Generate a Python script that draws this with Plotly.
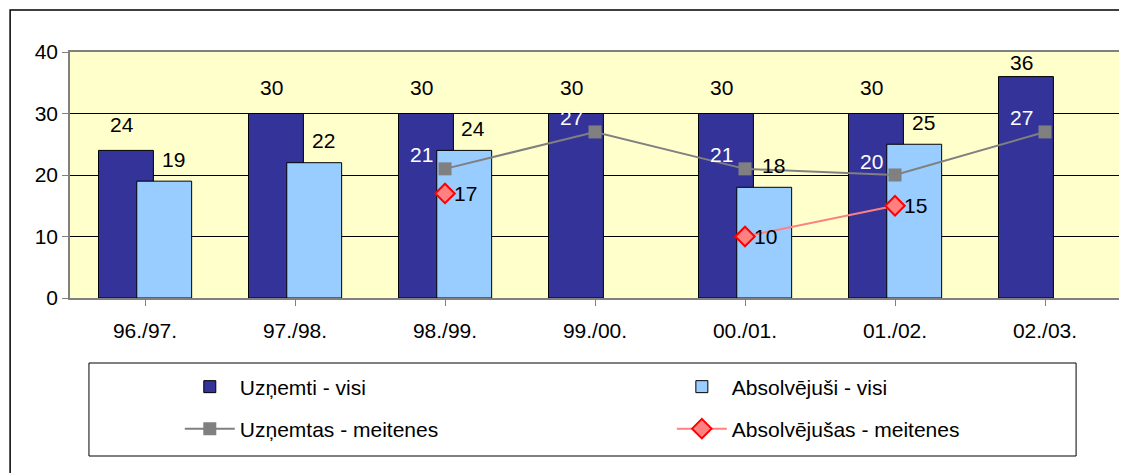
import plotly.graph_objects as go

categories = ["96./97.", "97./98.", "98./99.", "99./00.", "00./01.", "01./02.", "02./03."]
uznemti_visi = [24, 30, 30, 30, 30, 30, 36]
absolvejusi_visi = [19, 22, 24, None, 18, 25, None]
uznemtas_meitenes = [None, None, 21, 27, 21, 20, 27]
absolvejusas_meitenes = [None, None, 17, None, 10, 15, None]
y_ticks = [0, 10, 20, 30, 40]

FONT = "Liberation Sans, Arial, sans-serif"
FS = 21
DARK = "#333399"
LIGHT = "#99CCFF"
GRAY = "#808080"
RED_LINE = "#FF8080"
RED = "#FF0000"

x_idx = list(range(len(categories)))
BAR_W = 0.366
DARK_OFF = -0.31
LIGHT_OFF = -0.055

fig = go.Figure()
fig.add_trace(go.Bar(
    x=x_idx, y=uznemti_visi, name="Uzņemti - visi",
    width=BAR_W, offset=DARK_OFF,
    marker=dict(color=DARK, line=dict(color="#000000", width=1)),
    legend="legend",
))
fig.add_trace(go.Bar(
    x=x_idx, y=absolvejusi_visi, name="Absolvējuši - visi",
    width=BAR_W, offset=LIGHT_OFF,
    marker=dict(color=LIGHT, line=dict(color="#000000", width=1)),
    legend="legend2",
))
fig.add_trace(go.Scatter(
    x=x_idx, y=uznemtas_meitenes, name="Uzņemtas - meitenes",
    mode="lines+markers", connectgaps=False,
    line=dict(color=GRAY, width=2),
    marker=dict(symbol="square", size=13, color=GRAY),
    legend="legend3",
))
fig.add_trace(go.Scatter(
    x=x_idx, y=absolvejusas_meitenes, name="Absolvējušas - meitenes",
    mode="lines+markers", connectgaps=False,
    line=dict(color=RED_LINE, width=2),
    marker=dict(symbol="diamond", size=15, color=RED_LINE, line=dict(color=RED, width=2)),
    legend="legend4",
))

# page geometry (the browser body adds an 8px margin)
OFF = 8
PAGE_W, PAGE_H = 1127, 473
W, H = PAGE_W - OFF, PAGE_H - OFF
PLOT_L, PLOT_R, PLOT_T, PLOT_B = 70, 1122, 52, 298  # page pixels
L, R, T, B = PLOT_L - OFF, W - (PLOT_R - OFF), PLOT_T - OFF, H - (PLOT_B - OFF)
PW, PH = PLOT_R - PLOT_L, PLOT_B - PLOT_T

YMAX = 40
PX_PER_UNIT = PH / YMAX
annotations = []
dark_center = (DARK_OFF + BAR_W / 2)
light_center = (LIGHT_OFF + BAR_W / 2)
for i, v in enumerate(uznemti_visi):
    if v is None:
        continue
    ys = min(26, (YMAX - v) * PX_PER_UNIT - 11)
    annotations.append(dict(x=i + dark_center, y=v, xref="x", yref="y", text=str(v),
                            showarrow=False, xshift=-4, yshift=ys,
                            font=dict(family=FONT, size=FS, color="#000000")))
for i, v in enumerate(absolvejusi_visi):
    if v is None:
        continue
    annotations.append(dict(x=i + light_center, y=v, xref="x", yref="y", text=str(v),
                            showarrow=False, xshift=9, yshift=22,
                            font=dict(family=FONT, size=FS, color="#000000")))
for i, v in enumerate(uznemtas_meitenes):
    if v is None:
        continue
    annotations.append(dict(x=i, y=v, xref="x", yref="y", text=str(v),
                            showarrow=False, xshift=-24, yshift=14,
                            font=dict(family=FONT, size=FS, color="#FFFFFF")))
for i, v in enumerate(absolvejusas_meitenes):
    if v is None:
        continue
    annotations.append(dict(x=i, y=v, xref="x", yref="y", text=str(v),
                            showarrow=False, xshift=20, yshift=0,
                            font=dict(family=FONT, size=FS, color="#000000")))


def px_x(px):
    return (px - PLOT_L) / PW


def px_y(py):
    return (PLOT_B - py) / PH


shapes = [
    # outer chart frame
    dict(type="rect", xref="paper", yref="paper",
         x0=px_x(10), x1=px_x(1140), y0=px_y(490), y1=px_y(10),
         line=dict(color="#000000", width=1.5), fillcolor="rgba(0,0,0,0)", layer="below"),
    # legend box
    dict(type="rect", xref="paper", yref="paper",
         x0=px_x(89), x1=px_x(1078), y0=px_y(456), y1=px_y(363),
         line=dict(color="#000000", width=1), fillcolor="rgba(0,0,0,0)"),
]


def leg(xpx, ypx):
    return dict(x=px_x(xpx), y=px_y(ypx), xanchor="left", yanchor="middle",
                orientation="h", bgcolor="rgba(0,0,0,0)", borderwidth=0,
                font=dict(family=FONT, size=FS, color="#000000"), itemwidth=50)


fig.update_layout(
    width=W, height=H,
    margin=dict(l=L, r=R, t=T, b=B),
    paper_bgcolor="#FFFFFF",
    plot_bgcolor="#FFFFCC",
    barmode="overlay",
    font=dict(family=FONT, size=FS, color="#000000"),
    showlegend=True,
    legend=leg(180, 387),
    legend2=leg(673, 387),
    legend3=leg(180, 429),
    legend4=leg(673, 429),
    annotations=annotations,
    shapes=shapes,
    xaxis=dict(
        tickmode="array", tickvals=x_idx, ticktext=categories,
        range=[-0.5, len(categories) - 0.5],
        showline=True, linecolor=GRAY, linewidth=1.5, mirror=True,
        ticks="outside", tickson="boundaries", ticklen=6, tickcolor=GRAY,
        showgrid=False, zeroline=False, ticklabelstandoff=7,
        tickfont=dict(family=FONT, size=FS, color="#000000"),
    ),
    yaxis=dict(
        range=[0, YMAX], tickmode="array", tickvals=y_ticks,
        showline=True, linecolor=GRAY, linewidth=1.5, mirror=True,
        ticks="outside", ticklen=6, tickcolor=GRAY,
        showgrid=True, gridcolor="#000000", gridwidth=1, zeroline=False,
        tickfont=dict(family=FONT, size=FS, color="#000000"),
    ),
)

fig.write_html("out.html")
